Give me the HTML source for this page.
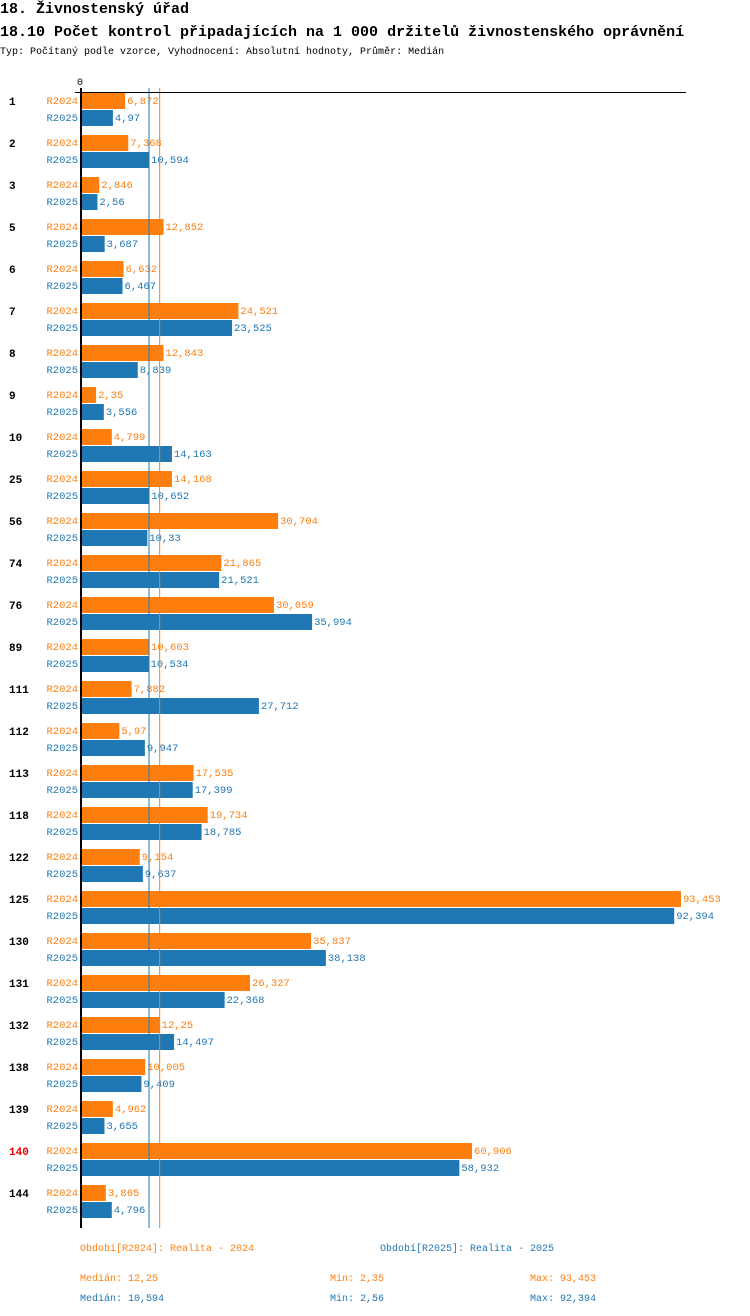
<!DOCTYPE html>
<html><head><meta charset="utf-8"><style>
body{margin:0;background:#fff;width:750px;height:1316px;overflow:hidden}
svg{display:block;font-family:"Liberation Mono",monospace}
</style></head><body>
<svg id="c" width="750" height="1316" xmlns="http://www.w3.org/2000/svg">
<text x="0" y="13" font-size="15" font-weight="bold">18. Živnostenský úřad</text>
<text x="0" y="36" font-size="15" font-weight="bold">18.10 Počet kontrol připadajících na 1 000 držitelů živnostenského oprávnění</text>
<text x="0" y="54" font-size="10">Typ: Počítaný podle vzorce, Vyhodnocení: Absolutní hodnoty, Průměr: Medián</text>
<text x="77" y="85" font-size="10">0</text>
<g id="bars"></g>
<g font-size="10">
<text x="80" y="1251" fill="#ff7f0e">Období[R2024]: Realita - 2024</text>
<text x="380" y="1251" fill="#1f77b4">Období[R2025]: Realita - 2025</text>
<text x="80" y="1281" fill="#ff7f0e">Medián: 12,25</text>
<text x="330" y="1281" fill="#ff7f0e">Min: 2,35</text>
<text x="530" y="1281" fill="#ff7f0e">Max: 93,453</text>
<text x="80" y="1301" fill="#1f77b4">Medián: 10,594</text>
<text x="330" y="1301" fill="#1f77b4">Min: 2,56</text>
<text x="530" y="1301" fill="#1f77b4">Max: 92,394</text>
</g>
</svg>
<script>
const categories=["1","2","3","5","6","7","8","9","10","25","56","74","76","89","111","112","113","118","122","125","130","131","132","138","139","140","144"];
const r2024=[6.872,7.368,2.846,12.852,6.632,24.521,12.843,2.35,4.799,14.168,30.704,21.865,30.059,10.603,7.882,5.97,17.535,19.734,9.154,93.453,35.837,26.327,12.25,10.005,4.962,60.906,3.865];
const r2025=[4.97,10.594,2.56,3.687,6.467,23.525,8.839,3.556,14.163,10.652,10.33,21.521,35.994,10.534,27.712,9.947,17.399,18.785,9.637,92.394,38.138,22.368,14.497,9.409,3.655,58.932,4.796];
const highlighted=["140"];
const median2024=12.25, median2025=10.594;
const NS="http://www.w3.org/2000/svg";
const g=document.getElementById('bars');
const x0=81, scale=(681-81)/93.453, top0=92, step=42;
const xs=v=>x0+v*scale;
function mk(t,a,txt){const e=document.createElementNS(NS,t);for(const k in a)e.setAttribute(k,a[k]);if(txt!==undefined)e.textContent=txt;g.appendChild(e);return e;}
const fmt=v=>String(v).replace('.',',');
const bottom=top0+categories.length*step;
categories.forEach((c,i)=>{
  const y=top0+i*step;
  const cl=mk('text',{x:9,y:y+13,'font-size':11,'font-weight':'bold',fill:highlighted.includes(c)?'#e00':'#000'},c);
  
  
  [[r2024,'#ff7f0e','R2024',1],[r2025,'#1f77b4','R2025',18]].forEach(([arr,col,lab,off])=>{
    const v=arr[i];
    const l=mk('text',{x:78,y:y+off+11,'font-size':10.5,fill:col,'text-anchor':'end'},lab);
    
    
    const r=mk('rect',{x:x0,y:y+off,width:xs(v)-x0,height:16,fill:col});
    
    
    const t=mk('text',{x:xs(v)+2,y:y+off+11,'font-size':10.5,fill:col},fmt(v));
    
    
  });
});
const m1=mk('line',{x1:xs(median2025),x2:xs(median2025),y1:88,y2:bottom+2,stroke:'#1f77b4','stroke-width':1});


const m2=mk('line',{x1:xs(median2024),x2:xs(median2024),y1:88,y2:bottom+2,stroke:'#ff7f0e','stroke-width':1});


const ax=mk('line',{x1:75,x2:686,y1:92.5,y2:92.5,stroke:'#000','stroke-width':1});


const ay=mk('line',{x1:81,x2:81,y1:88,y2:bottom+2,stroke:'#000','stroke-width':2});


</script>
</body></html>
